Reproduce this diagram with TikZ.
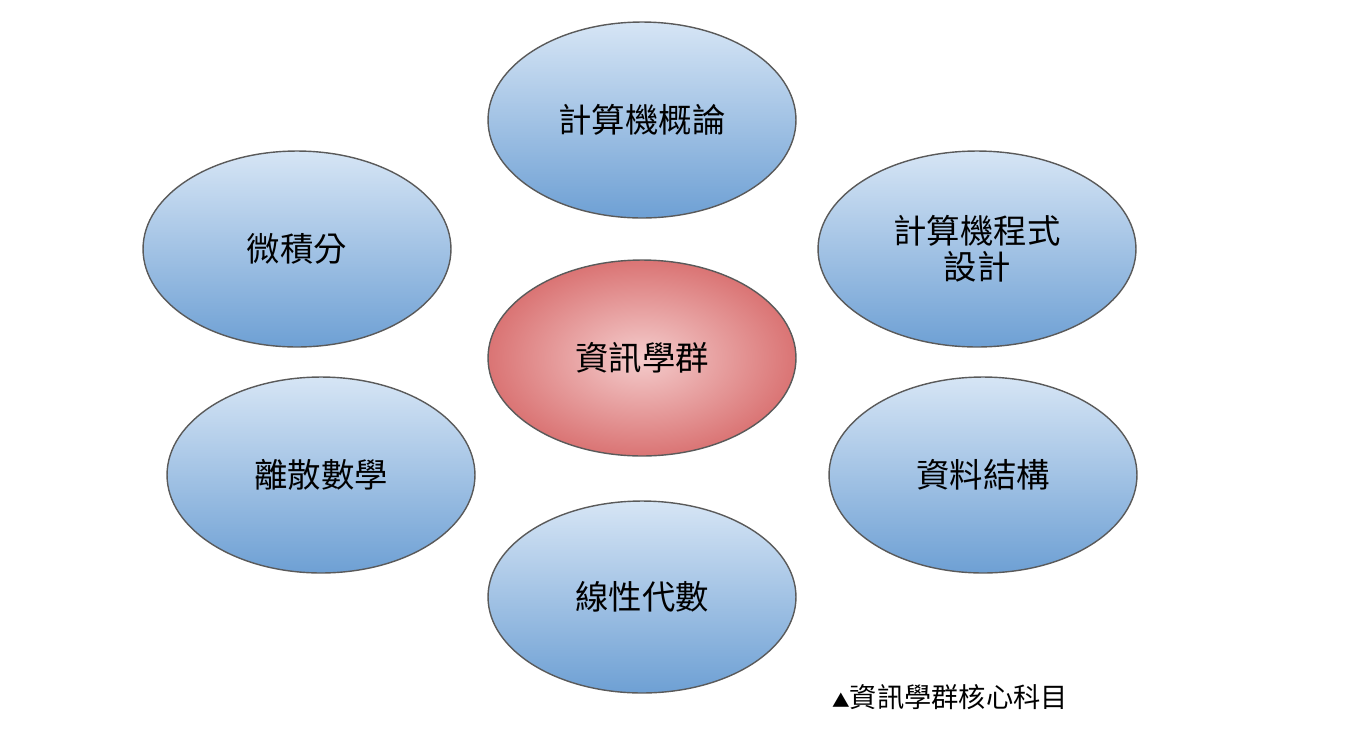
\documentclass[tikz,border=0pt]{standalone}
\usepackage{fontspec}
\usepackage{tikz}
\usepackage{xcolor}
\usetikzlibrary{shapes.geometric, positioning}
\newfontfamily\tcfont{Noto Sans CJK TC}
\definecolor{cBlueTop}{RGB}{214,229,245}
\definecolor{cBlueBot}{RGB}{110,160,212}
\definecolor{cRedIn}{RGB}{244,204,204}
\definecolor{cRedOut}{RGB}{218,116,116}
\definecolor{cEdge}{RGB}{90,90,90}
\tikzset{
    subject/.style={ellipse, draw=cEdge, line width=0.8pt, minimum width=6.16cm, minimum height=3.92cm, align=center, font=\tcfont\fontsize{19}{20.5}\selectfont, top color=cBlueTop, bottom color=cBlueBot, inner sep=0pt},
    hub/.style    ={subject, inner color=cRedIn, outer color=cRedOut},
}

\begin{document}
\begin{tikzpicture}[x=0.02cm, y=-0.02cm]
        \useasboundingbox (0,0) rectangle (1370,728);
        \node[hub] (core) at (642,358) {資訊學群};
        \node[subject] (intro) at (642,120) {計算機概論};
        \node[subject] (calc) at (297,249) {微積分};
        \node[subject, minimum width=6.36cm] (prog) at (977,249) {計算機程式\\設計};
        \node[subject] (discrete) at (321,475) {離散數學};
        \node[subject] (ds) at (983,475) {資料結構};
        \node[subject, minimum height=3.84cm] (linalg) at (642,597) {線性代數};
        \node[font=\tcfont\fontsize{15.5}{17}\selectfont, anchor=west, inner sep=0pt] (note) at (832,697) {{\fontsize{10}{12}\selectfont ▲}資訊學群核心科目};
    \end{tikzpicture}
\end{document}
